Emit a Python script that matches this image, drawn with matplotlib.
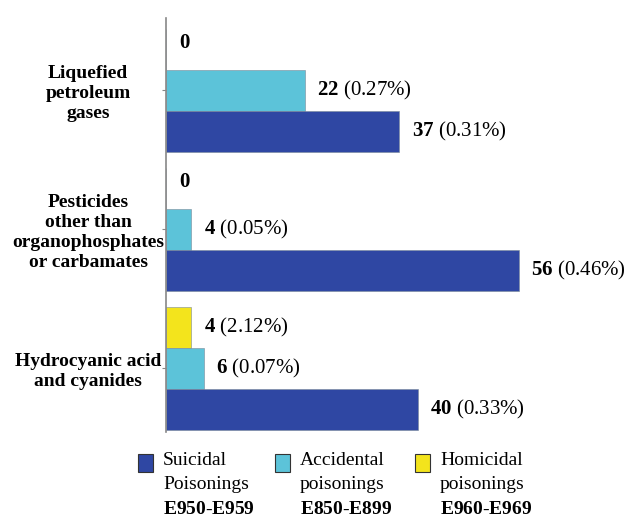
import matplotlib.pyplot as plt
from matplotlib.patches import Rectangle
import numpy as np

categories = ['Liquefied\npetroleum\ngases',
              'Pesticides\nother than\norganophosphates\nor carbamates',
              'Hydrocyanic acid\nand cyanides']

suicidal = [37, 56, 40]
suicidal_pct = ['0.31%', '0.46%', '0.33%']
accidental = [22, 4, 6]
accidental_pct = ['0.27%', '0.05%', '0.07%']
homicidal = [0, 0, 4]
homicidal_pct = [None, None, '2.12%']

legend_labels = ['Suicidal\nPoisonings\n$\\mathbf{E950}$-$\\mathbf{E959}$',
                 'Accidental\npoisonings\n$\\mathbf{E850}$-$\\mathbf{E899}$',
                 'Homicidal\npoisonings\n$\\mathbf{E960}$-$\\mathbf{E969}$']

plt.rcParams['font.family'] = 'Liberation Serif'
plt.rcParams['mathtext.fontset'] = 'custom'
plt.rcParams['mathtext.rm'] = 'Liberation Serif'
plt.rcParams['mathtext.bf'] = 'Liberation Serif:bold'

COR_SUI = '#2f47a3'
COR_ACC = '#5cc3d9'
COR_HOM = '#f3e41c'


def etiqueta(v, pct):
    if pct is None:
        return f'$\\mathbf{{{v}}}$'
    return f'$\\mathbf{{{v}}}$ ({pct})'


def gerar_grafico():
    fig = plt.figure(figsize=(6.42, 5.17), dpi=100)
    ax = fig.add_axes([0.2586, 0.164, 0.726, 0.801])

    y = np.arange(len(categories))
    h = 0.295

    series = [
        (homicidal, homicidal_pct, -h, COR_HOM),
        (accidental, accidental_pct, 0, COR_ACC),
        (suicidal, suicidal_pct, h, COR_SUI),
    ]

    for valores, pcts, desloc, cor in series:
        ax.barh(y + desloc, valores, height=h, color=cor,
                edgecolor='#7a8a9a', linewidth=0.4)
        for v, p, yy in zip(valores, pcts, y + desloc):
            # rotulos com zero ficam um pouco acima do centro da barra
            dy = 4 if v == 0 else 0
            ax.annotate(etiqueta(v, p), xy=(v, yy), xytext=(9, dy),
                        textcoords='offset points', va='center',
                        ha='left', fontsize=15)

    ax.set_xlim(0, 74)
    ax.set_ylim(2.46, -0.52)
    ax.set_yticks(y)
    ax.set_yticklabels(categories, fontweight='bold', fontsize=14,
                       ha='center', linespacing=1.23)
    ax.tick_params(axis='y', pad=53, length=3, color='#888888')
    ax.set_xticks([])
    for lado in ['top', 'right', 'bottom']:
        ax.spines[lado].set_visible(False)
    ax.spines['left'].set_color('#888888')
    ax.spines['left'].set_linewidth(1.2)

    # legenda montada a mao para o quadrado ficar na primeira linha
    cores_leg = [COR_SUI, COR_ACC, COR_HOM]
    xs_leg = [138, 275, 415]
    W, H = 642, 517
    for x0, cor, texto in zip(xs_leg, cores_leg, legend_labels):
        fig.patches.append(Rectangle((x0 / W, 1 - 472 / H), 15 / W, 18 / H,
                                     transform=fig.transFigure,
                                     facecolor=cor, edgecolor='#333333',
                                     linewidth=0.8))
        fig.text((x0 + 25) / W, 1 - 452 / H, texto, ha='left', va='top',
                 fontsize=14, linespacing=1.56)

    plt.savefig('out.png', dpi=100)


if __name__ == '__main__':
    gerar_grafico()
